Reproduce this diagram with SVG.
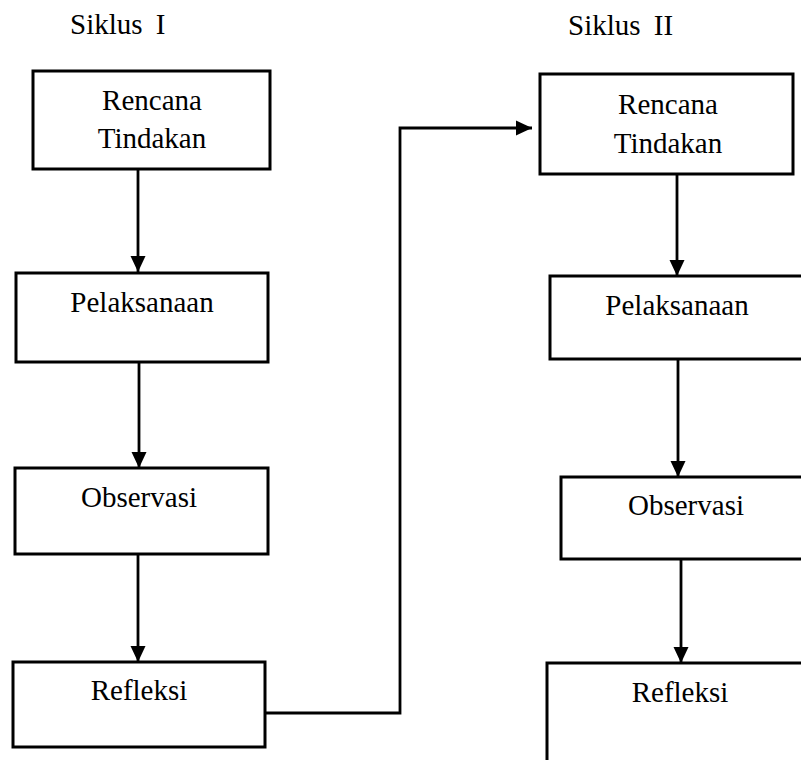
<svg xmlns="http://www.w3.org/2000/svg" width="801" height="760" viewBox="0 0 801 760">
<style>
.box{fill:#fff;stroke:#000;stroke-width:3}
.t{font-family:"Liberation Serif","Times New Roman",serif;font-size:29px;fill:#000;text-anchor:middle}
.title{font-family:"Liberation Serif","Times New Roman",serif;font-size:29px;fill:#000;word-spacing:6px}
.c{fill:none;stroke:#000;stroke-width:2.8}
</style>
<defs>
<marker id="ah" markerUnits="userSpaceOnUse" markerWidth="16" markerHeight="16" viewBox="0 0 16 16" refX="16" refY="8" orient="auto">
<path d="M0,0.5 L16,8 L0,15.5 z" fill="#000"/>
</marker>
</defs>
<rect width="801" height="760" fill="#fff"/>
<text class="title" x="70" y="34">Siklus I</text>
<text class="title" x="568" y="35">Siklus II</text>
<g id="connectors">
<line class="c" x1="138" y1="169" x2="138" y2="272" marker-end="url(#ah)"/>
<line class="c" x1="139" y1="362" x2="139" y2="468" marker-end="url(#ah)"/>
<line class="c" x1="138" y1="554" x2="138" y2="662" marker-end="url(#ah)"/>
<polyline class="c" points="265,713 400,713 400,128 532,128" marker-end="url(#ah)"/>
<line class="c" x1="677" y1="174" x2="677" y2="276" marker-end="url(#ah)"/>
<line class="c" x1="678" y1="359" x2="678" y2="477" marker-end="url(#ah)"/>
<line class="c" x1="681" y1="559" x2="681" y2="663" marker-end="url(#ah)"/>
</g>
<g id="s1-rencana"><rect class="box" x="33" y="71" width="237" height="98"/><text class="t" x="152" y="110">Rencana</text><text class="t" x="152" y="148">Tindakan</text></g>
<g id="s1-pelaksanaan"><rect class="box" x="16" y="273" width="252" height="89"/><text class="t" x="142" y="312">Pelaksanaan</text></g>
<g id="s1-observasi"><rect class="box" x="15" y="468" width="253" height="86"/><text class="t" x="139" y="507">Observasi</text></g>
<g id="s1-refleksi"><rect class="box" x="13" y="662" width="252" height="85"/><text class="t" x="139" y="700">Refleksi</text></g>
<g id="s2-rencana"><rect class="box" x="540" y="74" width="253" height="100"/><text class="t" x="668" y="114">Rencana</text><text class="t" x="668" y="153">Tindakan</text></g>
<g id="s2-pelaksanaan"><rect class="box" x="550" y="276" width="270" height="83"/><text class="t" x="677" y="315">Pelaksanaan</text></g>
<g id="s2-observasi"><rect class="box" x="561" y="477" width="260" height="82"/><text class="t" x="686" y="515">Observasi</text></g>
<g id="s2-refleksi"><rect class="box" x="547" y="663" width="270" height="140"/><text class="t" x="680" y="702">Refleksi</text></g>
</svg>
